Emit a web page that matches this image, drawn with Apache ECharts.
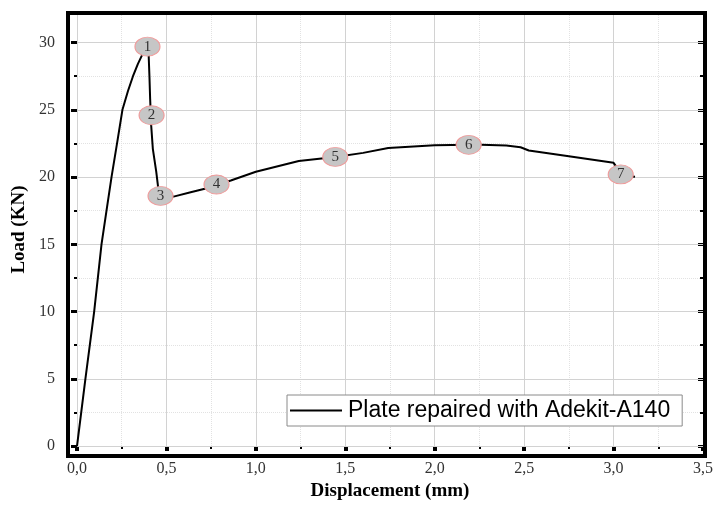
<!DOCTYPE html>
<html><head><meta charset="utf-8">
<script src="https://cdn.jsdelivr.net/npm/echarts@6/dist/echarts.min.js"></script>
<style>html,body{margin:0;padding:0;background:#fff}#c{width:716px;height:506px}</style>
</head><body><div id="c"></div>
<script>
const seriesName = 'Plate repaired with Adekit-A140';
const xTitle = 'Displacement (mm)';
const yTitle = 'Load (KN)';
const dispValues = [0, 0.047, 0.096, 0.137, 0.165, 0.193, 0.225, 0.254, 0.285, 0.313, 0.34, 0.365, 0.39, 0.4, 0.405, 0.409, 0.415, 0.424, 0.443, 0.454, 0.47, 0.54, 0.63, 0.72, 0.78, 0.86, 1.0, 1.24, 1.444, 1.6, 1.74, 2.0, 2.19, 2.26, 2.4, 2.48, 2.526, 2.75, 3.0, 3.03, 3.06, 3.12];
const loadValues = [0, 5, 10, 15, 17.5, 20, 22.6, 25, 26.4, 27.5, 28.4, 29.1, 29.7, 29.3, 27.5, 25.8, 23.8, 22.1, 20.4, 19.2, 18.5, 18.55, 18.85, 19.15, 19.4, 19.75, 20.4, 21.2, 21.5, 21.8, 22.17, 22.37, 22.4, 22.4, 22.35, 22.22, 21.98, 21.55, 21.06, 20.5, 20.1, 20.03];
const markerLabels = ['1', '2', '3', '4', '5', '6', '7'];
const markerDisp = [0.394, 0.417, 0.467, 0.78, 1.444, 2.19, 3.04];
const markerLoad = [29.7, 24.6, 18.6, 19.45, 21.5, 22.4, 20.2];
const xMin = 0, xMax = 3.5, xStep = 0.5;
const yMin = 0, yMax = 32.2, yStep = 5, yMinorStep = 2.5;

const serif = 'Liberation Serif';
const chart = echarts.init(document.getElementById('c'), null, {renderer: 'canvas'});
const lineData = dispValues.map((d, i) => [d, loadValues[i]]);
const markerData = markerDisp.map((d, i) => ({name: markerLabels[i], value: [d, markerLoad[i]]}));
const majorSplit = {show: true, lineStyle: {color: '#d2d2d2', width: 1}};
const minorSplit = {show: true, lineStyle: {color: '#e2e2e2', width: 1, type: 'dotted'}};

chart.setOption({
  animation: false,
  backgroundColor: '#fff',
  grid: [
    {left: 68, right: 11, top: 13, bottom: 50, show: true, borderColor: '#000', borderWidth: 4, backgroundColor: 'transparent', z: 3},
    {left: 77, right: 11, top: 13, bottom: 56}
  ],
  xAxis: [
    {gridIndex: 0, type: 'value', min: 0, max: 1, show: false},
    {gridIndex: 1, type: 'value', position: 'bottom', offset: 6, min: xMin, max: xMax, interval: xStep,
      axisLine: {show: false},
      axisTick: {show: true, inside: false, length: 5, lineStyle: {color: '#000', width: 4}},
      minorTick: {show: true, splitNumber: 2, length: 3, lineStyle: {color: '#000', width: 2}},
      splitLine: majorSplit, minorSplitLine: minorSplit,
      axisLabel: {formatter: v => v.toFixed(1).replace('.', ','), fontFamily: serif, fontSize: 16, color: '#333', margin: 9},
      name: xTitle, nameLocation: 'middle', nameGap: 27,
      nameTextStyle: {fontFamily: serif, fontWeight: 'bold', fontSize: 19, color: '#000'}},
    {gridIndex: 1, type: 'value', position: 'top', offset: 0, min: xMin, max: xMax, interval: xStep,
      axisLine: {show: false},
      axisTick: {show: true, inside: true, length: 5, lineStyle: {color: '#000', width: 3}},
      minorTick: {show: true, splitNumber: 2, length: 3, lineStyle: {color: '#000', width: 2}},
      splitLine: {show: false}, axisLabel: {show: false}}
  ],
  yAxis: [
    {gridIndex: 0, type: 'value', min: 0, max: 1, show: false},
    {gridIndex: 1, type: 'value', position: 'left', offset: 9, min: yMin, max: yMax, interval: yMinorStep,
      axisLine: {show: false},
      axisTick: {show: true, inside: false, length: 3, lineStyle: {color: '#000', width: 2}},
      splitLine: minorSplit, axisLabel: {show: false}},
    {gridIndex: 1, type: 'value', position: 'left', offset: 9, min: yMin, max: yMax, interval: yStep, z: 1,
      axisLine: {show: false},
      axisTick: {show: true, inside: false, length: 6, lineStyle: {color: '#000', width: 3}},
      splitLine: majorSplit,
      axisLabel: {formatter: v => (v % yStep === 0 ? String(v) : ''), fontFamily: serif, fontSize: 16, color: '#333', margin: 13},
      name: yTitle, nameLocation: 'middle', nameGap: 39,
      nameTextStyle: {fontFamily: serif, fontWeight: 'bold', fontSize: 19, color: '#000'}},
    {gridIndex: 1, type: 'value', position: 'right', offset: 0, min: yMin, max: yMax, interval: yMinorStep,
      axisLine: {show: false},
      axisTick: {show: true, inside: true, length: 3, lineStyle: {color: '#000', width: 2}},
      splitLine: {show: false}, axisLabel: {show: false}},
    {gridIndex: 1, type: 'value', position: 'right', offset: 0, min: yMin, max: yMax, interval: yStep,
      axisLine: {show: false},
      axisTick: {show: true, inside: true, length: 5, lineStyle: {color: '#000', width: 3}},
      splitLine: {show: false}, axisLabel: {show: false}}
  ],
  legend: {
    data: [{name: seriesName, icon: 'rect'}], left: 287, top: 395, orient: 'horizontal',
    itemWidth: 52, itemHeight: 2, padding: [4, 12, 4, 3],
    borderColor: '#8a8a8a', borderWidth: 1, backgroundColor: '#fff', selectedMode: false,
    itemStyle: {color: '#000'},
    textStyle: {fontFamily: 'Liberation Sans', fontSize: 23, color: '#000', padding: [0, 0, 0, 1]}
  },
  series: [
    {type: 'line', name: seriesName, xAxisIndex: 1, yAxisIndex: 2, data: lineData,
      symbol: 'none', lineStyle: {color: '#000', width: 2}, itemStyle: {color: '#000'}, z: 2},
    {type: 'scatter', name: 'points', xAxisIndex: 1, yAxisIndex: 2, data: markerData,
      symbol: 'circle', symbolSize: [25, 19],
      itemStyle: {color: '#c6c6c6', borderColor: '#f09a9a', borderWidth: 1, opacity: 1},
      label: {show: true, position: 'inside', formatter: p => p.name, fontFamily: serif, fontSize: 15, color: '#333'},
      z: 4}
  ]
});
</script></body></html>
